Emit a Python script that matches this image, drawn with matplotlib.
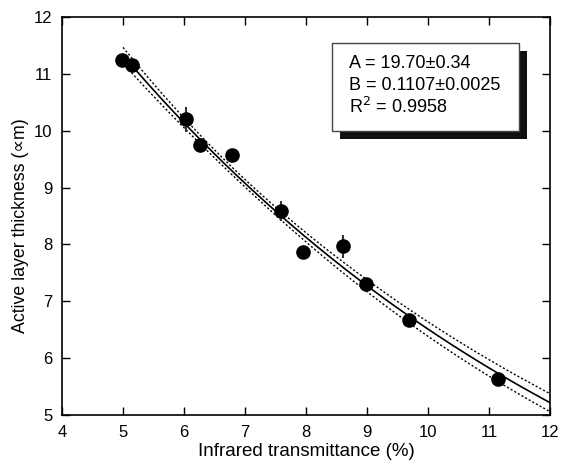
import numpy as np
import matplotlib.pyplot as plt
from matplotlib.patches import Rectangle

plt.rcParams.update({
    'font.family': ['Liberation Sans', 'DejaVu Sans'],
    'font.size': 12,
})

# Measured points
transmittance = [4.98, 5.15, 6.03, 6.26, 6.79, 7.59, 7.95, 8.60, 8.98, 9.69, 11.15]
thickness = [11.25, 11.15, 10.20, 9.75, 9.57, 8.59, 7.87, 7.97, 7.30, 6.67, 5.63]
thickness_err = [0.08, 0.08, 0.22, 0.08, 0.08, 0.17, 0.11, 0.20, 0.08, 0.10, 0.08]

# Fit parameters  y = A exp(-B x)
A, dA = 19.70, 0.34
B, dB = 0.1107, 0.0025
R2 = 0.9958
rho_AB = 0.983   # correlation between A and B (estimated)
t_val = 2.26     # 95% band

xf = np.linspace(5, 12, 200)
yf = A * np.exp(-B * xf)
# confidence band from parameter errors
gA = np.exp(-B * xf)
gB = -A * xf * np.exp(-B * xf)
var = (gA * dA)**2 + (gB * dB)**2 + 2 * gA * gB * dA * dB * rho_AB
band = t_val * np.sqrt(np.clip(var, 0, None))

fig = plt.figure(figsize=(5.64, 4.66), dpi=100)
ax = fig.add_axes([0.11, 0.1094, 0.865, 0.854])

ax.plot(xf, yf, color='black', lw=1.2)
ax.plot(xf, yf + band, color='black', lw=1.0, ls=(0, (1.5, 1.5)))
ax.plot(xf, yf - band, color='black', lw=1.0, ls=(0, (1.5, 1.5)))

ax.errorbar(transmittance, thickness, yerr=thickness_err, fmt='o', color='black',
            ecolor='#333333', elinewidth=1.5, capsize=0, ms=9.5, zorder=5)

ax.set_xlim(4, 12)
ax.set_ylim(5, 12)
ax.set_xticks(range(4, 13))
ax.set_yticks(range(5, 13))
ax.tick_params(direction='in', length=6, width=1, top=True, right=True,
               labelsize=12, pad=7)
for s in ax.spines.values():
    s.set_linewidth(1.2)

ax.set_xlabel('Infrared transmittance (%)', fontsize=13.5, labelpad=2)
ax.set_ylabel('Active layer thickness (\u221dm)', fontsize=12.8)
ax.yaxis.set_label_coords(-0.068, 0.475)

# parameter box with shadow
bx, by, bw, bh = 0.553, 0.714, 0.383, 0.221
ax.add_patch(Rectangle((bx + 0.0164, by - 0.020), bw, bh, transform=ax.transAxes,
                       facecolor='#111111', edgecolor='none', zorder=6))
ax.add_patch(Rectangle((bx, by), bw, bh, transform=ax.transAxes,
                       facecolor='white', edgecolor='#444444', lw=1, zorder=7))
lines = ['A = 19.70\u00b10.34', 'B = 0.1107\u00b10.0025', 'R$^2$ = 0.9958']
for i, t in enumerate(lines):
    ax.text(0.588, 0.884 - i * 0.055, t, transform=ax.transAxes, fontsize=13,
            va='center', ha='left', zorder=8)

fig.savefig('out.png', dpi=100)
